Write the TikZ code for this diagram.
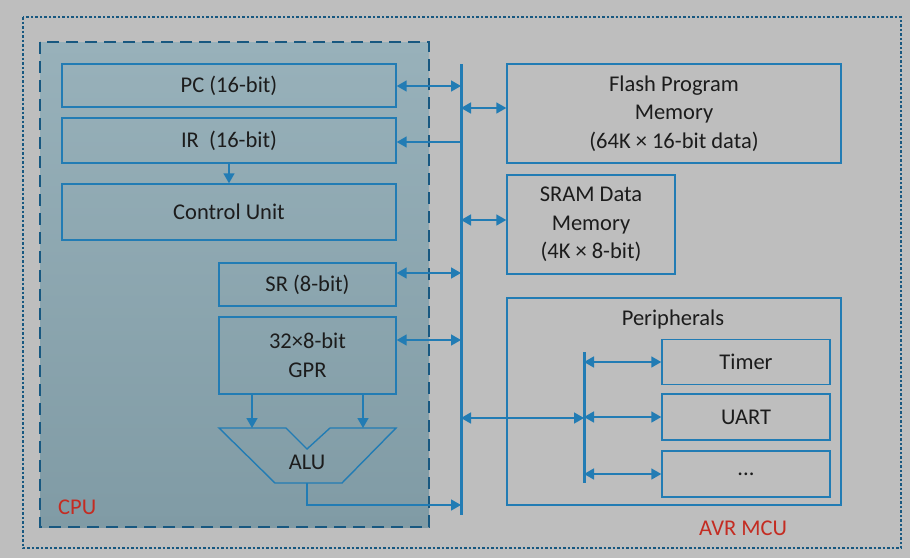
\documentclass[tikz,border=0pt]{standalone}
\usepackage{fontspec}
\setmainfont{Carlito}
\usetikzlibrary{arrows.meta}
\definecolor{bg}{RGB}{190,190,190}
\definecolor{cputop}{RGB}{152,177,186}
\definecolor{cpubot}{RGB}{128,155,165}
\definecolor{avrblue}{RGB}{34,124,180}
\definecolor{framec}{RGB}{24,88,128}
\definecolor{labred}{RGB}{196,44,34}
\definecolor{ink}{RGB}{28,28,28}
\tikzset{
  unit/.style={draw=avrblue,line width=1.4pt,inner sep=0pt,text=ink,align=center},
  link/.style={draw=avrblue,line width=1.6pt,
    {Triangle[length=10pt,width=11pt]}-{Triangle[length=10pt,width=11pt]}},
  feed/.style={draw=avrblue,line width=1.6pt,-{Triangle[length=10pt,width=11pt]}},
  bus/.style={draw=avrblue,line width=3pt},
  tag/.style={text=labred,inner sep=0pt,anchor=west}
}

\begin{document}
\begin{tikzpicture}[x=1pt,y=-1pt,font=\fontsize{22.5}{28.5}\selectfont]
   \fill[bg] (0,0) rectangle (910,558);
   \draw[framec,line width=2.5pt,dash pattern=on 2.5pt off 2pt] (23,17) rectangle (901,548);
   \shade[top color=cputop,bottom color=cpubot] (40,42) rectangle (429,527);
   \draw[framec,line width=2.5pt,dash pattern=on 12pt off 7pt] (40,42) rectangle (429,527);

   \node[unit,minimum width=334pt,minimum height=43pt] (pc) at (229,85.5) {PC (16-bit)};
   \node[unit,minimum width=334pt,minimum height=45pt] (ir) at (229,140.5) {IR~~(16-bit)};
   \node[unit,minimum width=334pt,minimum height=56pt] (cu) at (229,212) {Control Unit};
   \node[unit,minimum width=177pt,minimum height=43pt] (sr) at (307.5,284.5) {SR (8-bit)};
   \node[unit,minimum width=177pt,minimum height=77pt] (gpr) at (307.5,355.5) {32×8-bit\\GPR};
   \draw[avrblue,line width=1.4pt] (219,428) -- (286,428) -- (307,449) -- (330,428)
      -- (396,428) -- (342,483) -- (275,483) -- cycle;
   \node[text=ink] (alu) at (307,462) {ALU};
   \coordinate (aluout) at (307,483);
   \coordinate (ina) at (252,428);
   \coordinate (inb) at (363,428);
   \node[tag] (cpulabel) at (58,507) {CPU};

   \node[unit,minimum width=334pt,minimum height=99pt] (flash) at (674,113.5)
      {Flash Program\\Memory\\(64K × 16-bit data)};
   \node[unit,minimum width=168pt,minimum height=99pt] (sram) at (591,224.5)
      {SRAM Data\\Memory\\(4K × 8-bit)};
   \node[unit,minimum width=334pt,minimum height=207pt] (peri) at (674,401.5) {};
   \node[text=ink] (perititle) at (673,319) {Peripherals};
   \node[unit,minimum width=168pt,minimum height=45pt] (timer) at (746,362) {Timer};
   \node[unit,minimum width=168pt,minimum height=46pt] (uart) at (746,417) {UART};
   \node[unit,minimum width=168pt,minimum height=46pt] (more) at (746,474) {...};
   \node[tag] (mculabel) at (699,528) {AVR MCU};

   \coordinate (bustop) at (461,64);
   \coordinate (busbot) at (461,515);
   \coordinate (bpc) at (461,86);
   \coordinate (bir) at (461,142);
   \coordinate (bsr) at (461,273);
   \coordinate (bgpr) at (461,340);
   \coordinate (balu) at (461,505);
   \coordinate (bflash) at (461,108);
   \coordinate (bsram) at (461,220);
   \coordinate (bperi) at (461,418);
   \coordinate (pbtop) at (584,352);
   \coordinate (pbbot) at (584,483);
   \draw[bus] (bustop) -- (busbot);
   \draw[bus] (pbtop) -- (pbbot);

   \draw[feed] (ir) -- (cu);
   \foreach \n in {ina,inb}
     \draw[feed] (\n |- gpr.south) -- (\n);
   \draw[feed] (aluout) |- (balu);
   \draw[feed] (bir) -- (bir -| ir.east);
   \foreach \n/\b in {pc/bpc,sr/bsr,gpr/bgpr}
     \draw[link] (\b -| \n.east) -- (\b);
   \foreach \n/\b in {flash/bflash,sram/bsram}
     \draw[link] (\b) -- (\b -| \n.west);
   \draw[link] (bperi) -- (bperi -| pbtop);
   \foreach \n in {timer,uart,more}
     \draw[link] (\n.west -| pbtop) -- (\n.west);
  \end{tikzpicture}
\end{document}
